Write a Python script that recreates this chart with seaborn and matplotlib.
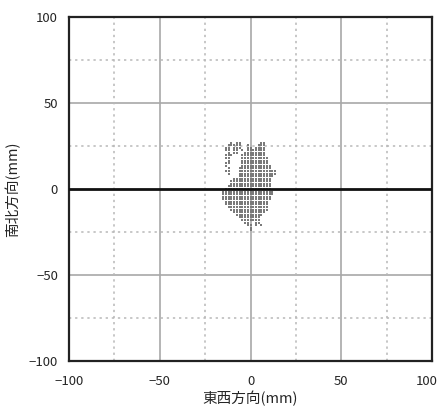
import numpy as np
import pandas as pd
import matplotlib
matplotlib.use("Agg")
import matplotlib.pyplot as plt
import matplotlib.transforms as mtrans
import seaborn as sns

# point cloud: one string per row, '#' = a point
# rows go from y=27 mm down to y=-24 mm, columns from x=-18 mm to x=15 mm (1.5 mm pitch)
row_y = [27 - 1.5 * i for i in range(35)]
col_x = [-18 + 1.5 * j for j in range(23)]
mask = [
    "     # ##       ##     ",
    "    #####  #   ###     ",
    "   ## ###  ## ####     ",
    "   ## ## # #######     ",
    "    # ##  ########     ",
    "   ###   #########     ",
    "   ##    ##########    ",
    "    #    ##########    ",
    "   ##    ##########    ",
    "   #     ###########   ",
    "    #   ############   ",
    "   ##   ############## ",
    "    #   ############## ",
    "        #############  ",
    "      ##############   ",
    "     ###############   ",
    "     ###############   ",
    "    ################   ",
    "   #################   ",
    "  ###################  ",
    "  ###################  ",
    "  ##################   ",
    "  ##################   ",
    "   ################    ",
    "   ################    ",
    "    ###############    ",
    "     ##############    ",
    "      ############     ",
    "       ##########      ",
    "        ########       ",
    "         #######       ",
    "          ##  ##       ",
    "           ## # #      ",
    "            #          ",
    "            #          ",
]

ticks = [-100, -50, 0, 50, 100]
tick_labels = ["−100", "−50", "0", "50", "100"]
minor_ticks = [-75, -25, 25, 75]

pts = [(col_x[j], row_y[i]) for i, row in enumerate(mask) for j, c in enumerate(row) if c == "#"]
df = pd.DataFrame(pts, columns=["ew", "ns"])

sns.set_style("white")
plt.rcParams["font.family"] = ["Noto Sans CJK JP", "DejaVu Sans"]
plt.rcParams["axes.unicode_minus"] = False

fig = plt.figure(figsize=(4.41, 4.08), dpi=100)
ax = fig.add_axes([0.1565, 0.1152, 0.8231, 0.8431])

# grid
for v in [-50, 0, 50]:
    ax.axvline(v, color="#a8a8a8", lw=1.2, zorder=1)
for v in [-50, 50]:
    ax.axhline(v, color="#a8a8a8", lw=1.2, zorder=1)
for v in minor_ticks:
    ax.axvline(v, color="#b8b8b8", lw=1.1, ls=(0, (1.5, 2.5)), zorder=1)
    ax.axhline(v, color="#b8b8b8", lw=1.1, ls=(0, (1.5, 2.5)), zorder=1)

sns.scatterplot(data=df, x="ew", y="ns", marker="s", s=3.5, color="#7a7a7a",
                linewidth=0, ax=ax, zorder=2)
ax.axhline(0, color="#111111", lw=2, zorder=3)

ax.set_xlim(-100, 100)
ax.set_ylim(-100, 100)
ax.set_xticks(ticks)
ax.set_yticks(ticks)
ax.set_xticklabels(tick_labels)
ax.set_yticklabels(tick_labels)
ax.tick_params(axis="x", length=0, pad=10, labelsize=9.5)
ax.tick_params(axis="y", length=0, pad=8, labelsize=9.5)
# keep the right-most x label inside the picture
last = ax.get_xticklabels()[-1]
last.set_transform(last.get_transform() + mtrans.ScaledTranslation(-4 / 72, 0, fig.dpi_scale_trans))
for s in ax.spines.values():
    s.set_color("#222222")
    s.set_linewidth(1.6)

ax.set_xlabel("東西方向(mm)", fontsize=10.5, labelpad=2)
ax.set_ylabel("南北方向(mm)", fontsize=10.5, labelpad=6)

fig.savefig("out.png", dpi=100)
